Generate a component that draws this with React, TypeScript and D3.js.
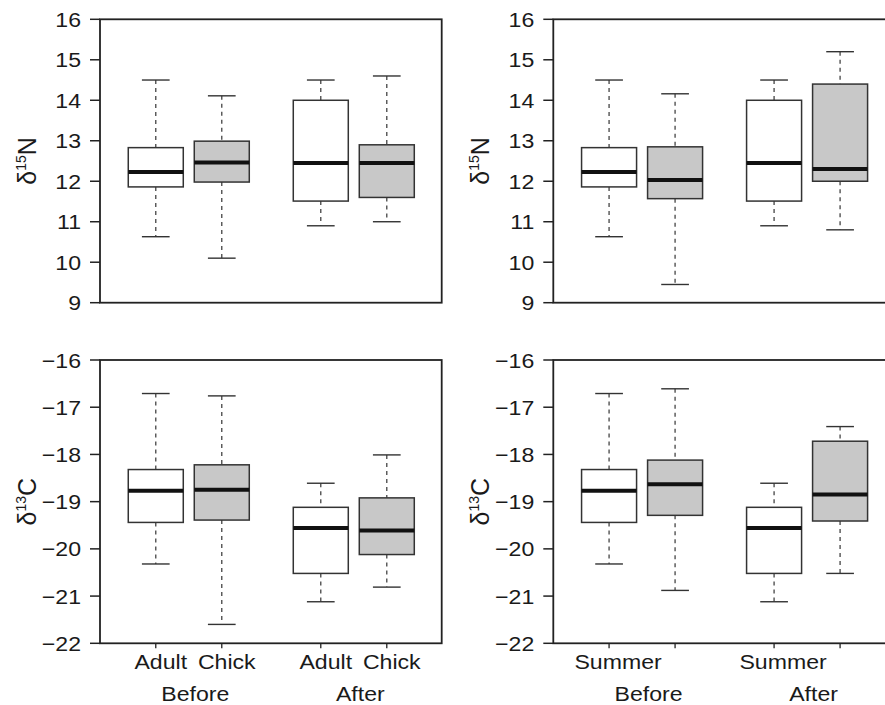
import React from "react";
import * as d3 from "d3";

// five-number summaries: [lower whisker, Q1, median, Q3, upper whisker]
const positions = [1, 2, 3.5, 4.5];
const boxFills = ["#ffffff", "#c8c8c8", "#ffffff", "#c8c8c8"];

const n15Left = [
  [10.63, 11.86, 12.23, 12.83, 14.5],
  [10.1, 11.98, 12.46, 12.99, 14.11],
  [10.9, 11.51, 12.45, 14.0, 14.5],
  [11.0, 11.6, 12.45, 12.9, 14.6],
];
const n15Right = [
  [10.63, 11.86, 12.23, 12.83, 14.5],
  [9.45, 11.57, 12.03, 12.85, 14.16],
  [10.9, 11.51, 12.45, 14.0, 14.5],
  [10.8, 12.0, 12.3, 14.4, 15.2],
];
const c13Left = [
  [-20.32, -19.44, -18.77, -18.32, -16.71],
  [-21.6, -19.39, -18.75, -18.22, -16.76],
  [-21.12, -20.52, -19.56, -19.12, -18.61],
  [-20.81, -20.12, -19.61, -18.92, -18.01],
];
const c13Right = [
  [-20.32, -19.44, -18.77, -18.32, -16.71],
  [-20.88, -19.29, -18.63, -18.12, -16.61],
  [-21.12, -20.52, -19.56, -19.12, -18.61],
  [-20.52, -19.41, -18.85, -17.72, -17.41],
];

const n15Ticks = [9, 10, 11, 12, 13, 14, 15, 16];
const c13Ticks = [-22, -21, -20, -19, -18, -17, -16];

const leftCatLabels = ["Adult", "Chick", "Adult", "Chick"];
const rightCatLabels = ["Summer", "", "Summer", ""];
const groupLabels = ["Before", "After"];

const FONT = "'Liberation Sans', Arial, Helvetica, sans-serif";
const FS = 21;
const SX = 1.1;

function fmt(v: number) {
  return v < 0 ? "\u2212" + Math.abs(v) : String(v);
}

function Txt({ x, y, anchor = "middle", children, size = FS }: any) {
  return (
    <text
      transform={`translate(${x},${y}) scale(${SX},1)`}
      textAnchor={anchor}
      fontFamily={FONT}
      fontSize={size}
      fill="#1a1a1a"
    >
      {children}
    </text>
  );
}

function Panel({ xr, yr, domain, ticks, data, iso, num, bottom, catLabels, catOffset }: any) {
  const x = d3.scaleLinear().domain([0.155, 5.332]).range(xr);
  const y = d3.scaleLinear().domain(domain).range(yr);
  const unit = x(1) - x(0);
  const halfBox = 0.4167 * unit;
  const halfCap = 0.21 * unit;
  const x0 = xr[0], x1 = xr[1];
  const yTop = y(domain[1]), yBot = y(domain[0]);
  const yMid = (yTop + yBot) / 2;
  return (
    <g>
      {data.map((s: number[], i: number) => {
        const cx = x(positions[i]);
        return (
          <g key={i}>
            <line x1={cx} x2={cx} y1={y(s[4])} y2={y(s[3])} stroke="#444" strokeWidth={1.3} strokeDasharray="4,4" />
            <line x1={cx} x2={cx} y1={y(s[1])} y2={y(s[0])} stroke="#444" strokeWidth={1.3} strokeDasharray="4,4" />
            <line x1={cx - halfCap} x2={cx + halfCap} y1={y(s[4])} y2={y(s[4])} stroke="#333" strokeWidth={1.4} />
            <line x1={cx - halfCap} x2={cx + halfCap} y1={y(s[0])} y2={y(s[0])} stroke="#333" strokeWidth={1.4} />
            <rect x={cx - halfBox} y={y(s[3])} width={2 * halfBox} height={y(s[1]) - y(s[3])} fill={boxFills[i]} stroke="#333" strokeWidth={1.5} />
            <line x1={cx - halfBox} x2={cx + halfBox} y1={y(s[2])} y2={y(s[2])} stroke="#111" strokeWidth={4} />
          </g>
        );
      })}
      <rect x={x0} y={yTop} width={x1 - x0} height={yBot - yTop} fill="none" stroke="#222" strokeWidth={1.8} />
      {ticks.map((t: number) => (
        <g key={t}>
          <line x1={x0 - 10} x2={x0} y1={y(t)} y2={y(t)} stroke="#222" strokeWidth={1.5} />
          <Txt x={x0 - 10 - 9} y={y(t) + 7.5} anchor="end">{fmt(t)}</Txt>
        </g>
      ))}
      <text
        transform={`translate(${x0 - 64},${yMid}) rotate(-90)`}
        textAnchor="middle"
        fontFamily={FONT}
        fontSize={25}
        fill="#1a1a1a"
      >
        δ<tspan fontSize={14} dy={-10}>{iso}</tspan>
        <tspan dy={10}>{num}</tspan>
      </text>
      {bottom && (
        <g>
          {positions.map((p: number, i: number) => (
            <line key={i} x1={x(p)} x2={x(p)} y1={yBot} y2={yBot + 5} stroke="#222" strokeWidth={1.3} />
          ))}
          {catLabels.map((l: string, i: number) =>
            l ? (
              <Txt key={i} x={x(positions[i]) + catOffset} y={yBot + 26}>{l}</Txt>
            ) : null
          )}
          {groupLabels.map((g: string, gi: number) => (
            <Txt key={g} x={x((positions[gi * 2] + positions[gi * 2 + 1]) / 2) + 6.5} y={yBot + 57.5}>{g}</Txt>
          ))}
        </g>
      )}
    </g>
  );
}

export default function App() {
  const leftX = [100, 441.7];
  const rightX = [553.3, 895];
  const topY = [302.7, 19.3];
  const botY = [643.3, 360];
  return (
    <svg
      width={885}
      height={705}
      style={{ position: "absolute", left: 0, top: 0, background: "#fff" }}
    >
      <rect width={885} height={705} fill="#fff" />
      <Panel xr={leftX} yr={topY} domain={[9, 16]} ticks={n15Ticks} data={n15Left} iso="15" num="N" />
      <Panel xr={rightX} yr={topY} domain={[9, 16]} ticks={n15Ticks} data={n15Right} iso="15" num="N" />
      <Panel xr={leftX} yr={botY} domain={[-22, -16]} ticks={c13Ticks} data={c13Left} iso="13" num="C" bottom catLabels={leftCatLabels} catOffset={5} />
      <Panel xr={rightX} yr={botY} domain={[-22, -16]} ticks={c13Ticks} data={c13Right} iso="13" num="C" bottom catLabels={rightCatLabels} catOffset={9} />
    </svg>
  );
}
